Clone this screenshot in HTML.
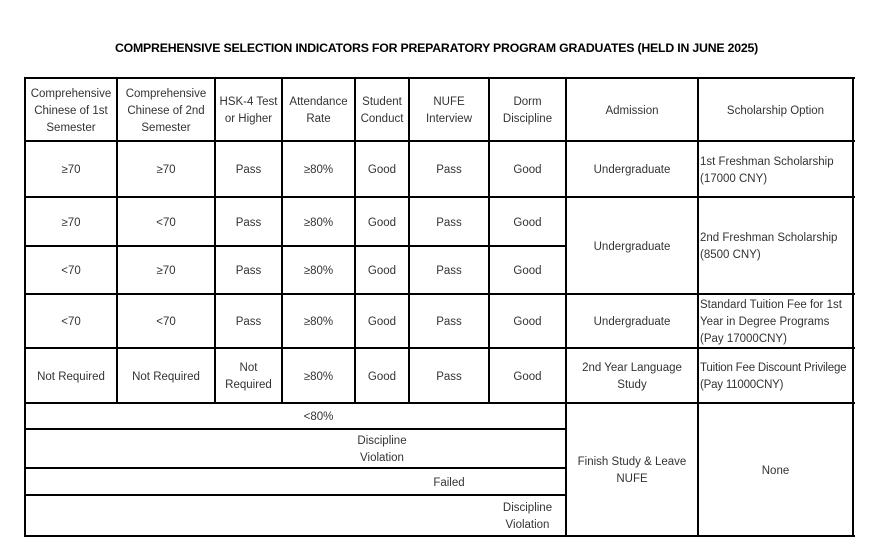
<!DOCTYPE html>
<html><head><meta charset="utf-8"><style>
body{margin:0;background:#fff;width:873px;height:552px;position:relative;overflow:hidden;font-family:"Liberation Sans",sans-serif;}
.h{position:absolute;height:2px;background:#000;}
.v{position:absolute;width:2px;background:#000;}
.c{position:absolute;display:flex;align-items:center;justify-content:center;text-align:center;font-size:11.5px;line-height:17px;color:#333;padding-top:2px;box-sizing:border-box;}
.l{justify-content:flex-start;text-align:left;padding-left:2px;}
.t{position:absolute;left:0;width:873px;top:41px;text-align:center;font-size:12.3px;font-weight:bold;color:#000;letter-spacing:-0.2px;}
</style></head><body>
<div class="t">COMPREHENSIVE SELECTION INDICATORS FOR PREPARATORY PROGRAM GRADUATES (HELD IN JUNE 2025)</div>

<div class="h" style="left:24px;width:831px;top:77px"></div>
<div class="h" style="left:24px;width:831px;top:140px"></div>
<div class="h" style="left:24px;width:831px;top:196px"></div>
<div class="h" style="left:24px;width:543px;top:245px"></div>
<div class="h" style="left:24px;width:831px;top:293px"></div>
<div class="h" style="left:24px;width:831px;top:347px"></div>
<div class="h" style="left:24px;width:831px;top:402px"></div>
<div class="h" style="left:24px;width:543px;top:428px"></div>
<div class="h" style="left:24px;width:543px;top:467px"></div>
<div class="h" style="left:24px;width:543px;top:494px"></div>
<div class="h" style="left:24px;width:831px;top:535px"></div>

<div class="v" style="left:24px;top:77px;height:460px"></div>
<div class="v" style="left:116px;top:77px;height:327px"></div>
<div class="v" style="left:214px;top:77px;height:327px"></div>
<div class="v" style="left:281px;top:77px;height:327px"></div>
<div class="v" style="left:354px;top:77px;height:327px"></div>
<div class="v" style="left:408px;top:77px;height:327px"></div>
<div class="v" style="left:488px;top:77px;height:327px"></div>
<div class="v" style="left:565px;top:77px;height:460px"></div>
<div class="v" style="left:697px;top:77px;height:460px"></div>
<div class="v" style="left:852px;top:77px;height:460px"></div>

<div class="c" style="left:25px;width:92px;top:79px;height:62px">Comprehensive Chinese of 1st Semester</div>
<div class="c" style="left:117px;width:98px;top:79px;height:62px">Comprehensive Chinese of 2nd Semester</div>
<div class="c" style="left:215px;width:67px;top:79px;height:62px">HSK-4 Test or Higher</div>
<div class="c" style="left:282px;width:73px;top:79px;height:62px">Attendance Rate</div>
<div class="c" style="left:355px;width:54px;top:79px;height:62px">Student Conduct</div>
<div class="c" style="left:409px;width:80px;top:79px;height:62px">NUFE<br>Interview</div>
<div class="c" style="left:489px;width:77px;top:79px;height:62px">Dorm<br>Discipline</div>
<div class="c" style="left:566px;width:132px;top:79px;height:62px">Admission</div>
<div class="c" style="left:698px;width:155px;top:79px;height:62px">Scholarship Option</div>

<div class="c" style="left:25px;width:92px;top:142px;height:55px">≥70</div>
<div class="c" style="left:117px;width:98px;top:142px;height:55px">≥70</div>
<div class="c" style="left:215px;width:67px;top:142px;height:55px">Pass</div>
<div class="c" style="left:282px;width:73px;top:142px;height:55px">≥80%</div>
<div class="c" style="left:355px;width:54px;top:142px;height:55px">Good</div>
<div class="c" style="left:409px;width:80px;top:142px;height:55px">Pass</div>
<div class="c" style="left:489px;width:77px;top:142px;height:55px">Good</div>
<div class="c" style="left:566px;width:132px;top:142px;height:55px">Undergraduate</div>
<div class="c l" style="left:698px;width:153px;top:142px;height:55px">1st Freshman Scholarship<br>(17000 CNY)</div>

<div class="c" style="left:25px;width:92px;top:198px;height:48px">≥70</div>
<div class="c" style="left:117px;width:98px;top:198px;height:48px">&lt;70</div>
<div class="c" style="left:215px;width:67px;top:198px;height:48px">Pass</div>
<div class="c" style="left:282px;width:73px;top:198px;height:48px">≥80%</div>
<div class="c" style="left:355px;width:54px;top:198px;height:48px">Good</div>
<div class="c" style="left:409px;width:80px;top:198px;height:48px">Pass</div>
<div class="c" style="left:489px;width:77px;top:198px;height:48px">Good</div>
<div class="c" style="left:25px;width:92px;top:247px;height:47px">&lt;70</div>
<div class="c" style="left:117px;width:98px;top:247px;height:47px">≥70</div>
<div class="c" style="left:215px;width:67px;top:247px;height:47px">Pass</div>
<div class="c" style="left:282px;width:73px;top:247px;height:47px">≥80%</div>
<div class="c" style="left:355px;width:54px;top:247px;height:47px">Good</div>
<div class="c" style="left:409px;width:80px;top:247px;height:47px">Pass</div>
<div class="c" style="left:489px;width:77px;top:247px;height:47px">Good</div>
<div class="c" style="left:566px;width:132px;top:198px;height:96px">Undergraduate</div>
<div class="c l" style="left:698px;width:153px;top:198px;height:96px">2nd Freshman Scholarship<br>(8500 CNY)</div>

<div class="c" style="left:25px;width:92px;top:295px;height:53px">&lt;70</div>
<div class="c" style="left:117px;width:98px;top:295px;height:53px">&lt;70</div>
<div class="c" style="left:215px;width:67px;top:295px;height:53px">Pass</div>
<div class="c" style="left:282px;width:73px;top:295px;height:53px">≥80%</div>
<div class="c" style="left:355px;width:54px;top:295px;height:53px">Good</div>
<div class="c" style="left:409px;width:80px;top:295px;height:53px">Pass</div>
<div class="c" style="left:489px;width:77px;top:295px;height:53px">Good</div>
<div class="c" style="left:566px;width:132px;top:295px;height:53px">Undergraduate</div>
<div class="c l" style="left:698px;width:153px;top:295px;height:53px">Standard Tuition Fee for 1st Year in Degree Programs (Pay 17000CNY)</div>

<div class="c" style="left:25px;width:92px;top:349px;height:54px">Not Required</div>
<div class="c" style="left:117px;width:98px;top:349px;height:54px">Not Required</div>
<div class="c" style="left:215px;width:67px;top:349px;height:54px">Not<br>Required</div>
<div class="c" style="left:282px;width:73px;top:349px;height:54px">≥80%</div>
<div class="c" style="left:355px;width:54px;top:349px;height:54px">Good</div>
<div class="c" style="left:409px;width:80px;top:349px;height:54px">Pass</div>
<div class="c" style="left:489px;width:77px;top:349px;height:54px">Good</div>
<div class="c" style="left:566px;width:132px;top:349px;height:54px">2nd Year Language<br>Study</div>
<div class="c l" style="left:698px;width:155px;top:349px;height:54px;white-space:nowrap;letter-spacing:-0.2px">Tuition Fee Discount Privilege<br>(Pay 11000CNY)</div>

<div class="c" style="left:282px;width:73px;top:404px;height:25px">&lt;80%</div>
<div class="c" style="left:345px;width:74px;top:430px;height:38px">Discipline<br>Violation</div>
<div class="c" style="left:409px;width:80px;top:469px;height:26px">Failed</div>
<div class="c" style="left:489px;width:77px;top:496px;height:40px">Discipline<br>Violation</div>
<div class="c" style="left:566px;width:132px;top:404px;height:132px">Finish Study &amp; Leave<br>NUFE</div>
<div class="c" style="left:698px;width:155px;top:404px;height:132px">None</div>
</body></html>
